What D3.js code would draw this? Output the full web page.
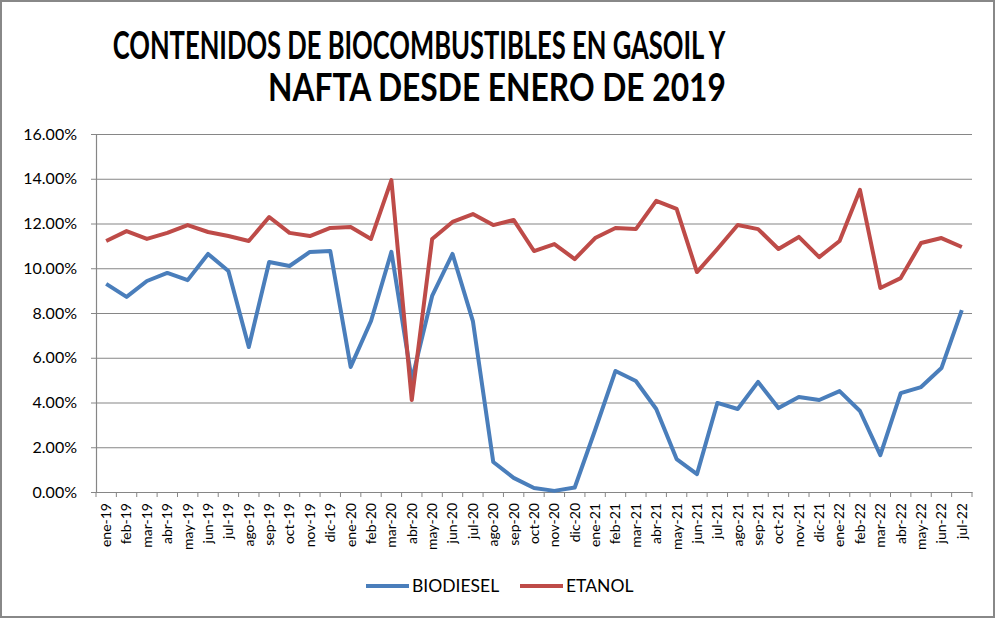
<!DOCTYPE html>
<html lang="es">
<head>
<meta charset="utf-8">
<script src="https://d3js.org/d3.v7.min.js"></script>
<style>
  body { margin: 0; background: #fff; }
  text { font-family: Lato, "Open Sans", sans-serif; }
</style>
</head>
<body>
<div id="my_dataviz"></div>
<script>

// data
var months = ["ene-19","feb-19","mar-19","abr-19","may-19","jun-19","jul-19","ago-19","sep-19","oct-19","nov-19","dic-19",
              "ene-20","feb-20","mar-20","abr-20","may-20","jun-20","jul-20","ago-20","sep-20","oct-20","nov-20","dic-20",
              "ene-21","feb-21","mar-21","abr-21","may-21","jun-21","jul-21","ago-21","sep-21","oct-21","nov-21","dic-21",
              "ene-22","feb-22","mar-22","abr-22","may-22","jun-22","jul-22"];

var biodiesel = [9.30, 8.72, 9.43, 9.79, 9.47, 10.64, 9.88, 6.48, 10.28, 10.10, 10.73, 10.77,
                 5.59, 7.64, 10.73, 5.00, 8.76, 10.64, 7.64, 1.34, 0.63, 0.18, 0.05, 0.20,
                 2.77, 5.41, 4.96, 3.71, 1.47, 0.80, 3.98, 3.71, 4.92, 3.75, 4.25, 4.11,
                 4.51, 3.62, 1.65, 4.42, 4.69, 5.54, 8.13];

var etanol = [11.22, 11.66, 11.31, 11.58, 11.93, 11.62, 11.44, 11.22, 12.29, 11.58, 11.44, 11.80,
              11.84, 11.31, 13.94, 4.11, 11.31, 12.07, 12.42, 11.93, 12.16, 10.77, 11.08, 10.41,
              11.35, 11.80, 11.75, 13.01, 12.65, 9.83, 10.86, 11.93, 11.75, 10.86, 11.40, 10.50,
              11.22, 13.50, 9.12, 9.56, 11.13, 11.35, 10.95];

var yTicks = [0, 2, 4, 6, 8, 10, 12, 14, 16];
var seriesNames = ["BIODIESEL", "ETANOL"];
var seriesColors = ["#4A7EBB", "#BE4B48"];
var titleLines = ["CONTENIDOS DE BIOCOMBUSTIBLES EN GASOIL Y", "NAFTA DESDE ENERO DE 2019"];

var W = 995, H = 618;
var margin = {top: 134, right: 23, bottom: 126, left: 96},
    width = W - margin.left - margin.right,
    height = H - margin.top - margin.bottom;

var root = d3.select("#my_dataviz")
  .append("svg")
    .attr("width", W)
    .attr("height", H);

// outer frame
root.append("rect")
  .attr("x", 1).attr("y", 1)
  .attr("width", W - 2).attr("height", H - 2)
  .attr("fill", "#fff")
  .attr("stroke", "#888").attr("stroke-width", 2);

// title: same size on both lines, squeezed horizontally to the reference widths
var titleWidths = [613, 458];
var titleCenters = [419, 497];
root.selectAll(".title")
  .data(titleLines)
  .enter().append("text")
    .attr("class", "title")
    .attr("text-anchor", "middle")
    .style("font-family", "Lato, 'Open Sans', sans-serif")
    .style("font-size", "38px")
    .style("font-weight", "bold")
    .style("fill", "#000")
    .text(function(d) { return d; })
    .each(function(d, i) {
      var w = this.getComputedTextLength();
      var sx = Math.min(titleWidths[i] / w, 1);
      d3.select(this).attr("transform",
        "translate(" + titleCenters[i] + "," + (59 + i * 42) + ") scale(" + sx + ",1)");
    });

var svg = root.append("g")
  .attr("transform", "translate(" + margin.left + "," + margin.top + ")");

var x = d3.scaleBand()
  .domain(months)
  .range([0, width]);

var y = d3.scaleLinear()
  .domain([0, 16])
  .range([height, 0]);

// y axis
var yAxis = svg.append("g")
  .call(d3.axisLeft(y).tickValues(yTicks).tickSize(5).tickPadding(14)
    .tickFormat(function(d) { return d.toFixed(2) + "%"; }));
yAxis.select(".domain").attr("stroke", "#868686").attr("stroke-width", 1.2);
yAxis.selectAll(".tick line").attr("stroke", "#868686");
yAxis.selectAll(".tick text").style("font-size", "16px").style("fill", "#000")
  .style("font-family", "Lato, 'Open Sans', sans-serif");

// grid lines
svg.append("g")
  .selectAll("line")
  .data(yTicks.filter(function(d) { return d > 0; }))
  .enter().append("line")
    .attr("x1", 0).attr("x2", width)
    .attr("y1", function(d) { return y(d) + 0.5; })
    .attr("y2", function(d) { return y(d) + 0.5; })
    .attr("stroke", "#868686").attr("stroke-width", 1.2);

// x axis
var xAxis = svg.append("g")
  .attr("transform", "translate(0," + height + ")")
  .call(d3.axisBottom(x).tickSize(0).tickPadding(0));
xAxis.select(".domain").attr("stroke", "#868686").attr("stroke-width", 1.2);
xAxis.selectAll(".tick text")
  .attr("transform", "rotate(-90)")
  .attr("text-anchor", "end")
  .attr("x", -11)
  .attr("y", 0)
  .attr("dy", "0.35em")
  .style("font-size", "14px")
  .style("fill", "#000")
  .style("font-family", "Lato, 'Open Sans', sans-serif");

// tick marks between categories
svg.append("g")
  .selectAll("line")
  .data(months.concat(["end"]))
  .enter().append("line")
    .attr("x1", function(d, i) { return i * x.step(); })
    .attr("x2", function(d, i) { return i * x.step(); })
    .attr("y1", height).attr("y2", height + 5)
    .attr("stroke", "#868686");

// lines
var line = d3.line()
  .x(function(d, i) { return x(months[i]) + x.bandwidth() / 2; })
  .y(function(d) { return y(d); });

[biodiesel, etanol].forEach(function(s, k) {
  svg.append("path")
    .datum(s)
    .attr("fill", "none")
    .attr("stroke", seriesColors[k])
    .attr("stroke-width", 4)
    .attr("stroke-linejoin", "round")
    .attr("d", line);
});

// legend
var legendY = 586;
var legendX = [366, 520];
seriesNames.forEach(function(n, k) {
  root.append("line")
    .attr("x1", legendX[k]).attr("x2", legendX[k] + 43)
    .attr("y1", legendY).attr("y2", legendY)
    .attr("stroke", seriesColors[k]).attr("stroke-width", 4);
  root.append("text")
    .attr("x", legendX[k] + 46).attr("y", legendY)
    .attr("dy", "0.35em")
    .style("font-size", "17.5px")
    .text(n);
});

</script>
</body>
</html>
